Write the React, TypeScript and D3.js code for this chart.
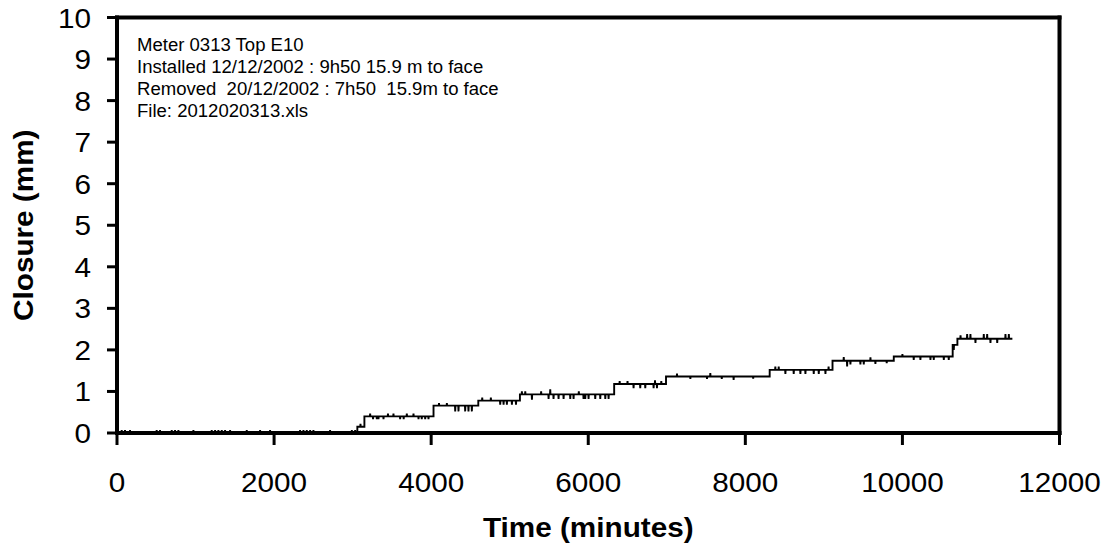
import React from "react";
import * as d3 from "d3";

// ---- data ----
const xTicks = [0, 2000, 4000, 6000, 8000, 10000, 12000];
const yTicks = [0, 1, 2, 3, 4, 5, 6, 7, 8, 9, 10];

// step levels of the closure record (minutes, mm)
const stepTimes = [0, 3060, 3150, 4030, 4600, 5130, 6330, 6990, 8310, 9110, 9890, 10640, 10700];
const stepLevels = [0, 0.15, 0.4, 0.66, 0.78, 0.93, 1.18, 1.36, 1.52, 1.74, 1.84, 2.12, 2.27];
const endTime = 11400;

// isolated single-reading excursions (minutes, mm)
const spikeTimes = [
  60, 102, 166, 505, 548, 697, 739, 782, 973, 1206, 1249, 1291, 1334, 1376, 1440, 1652, 1822, 1949,
  2331, 2374, 2416, 2459, 2501, 2713, 2990, 3032,
  3100,
  3223, 3260, 3308, 3329, 3393, 3450, 3520, 3605, 3650, 3690, 3775, 3839, 3880, 3924, 3966,
  4100, 4200, 4306, 4348, 4433, 4475, 4518,
  4650, 4760, 4879, 4922, 4964, 5028, 5080,
  5155, 5198, 5283, 5400, 5495, 5516, 5558, 5622, 5686, 5771, 5813, 5880, 5940, 5962, 6004, 6089, 6153, 6217, 6259,
  6400, 6500, 6577, 6662, 6726, 6832, 6850, 6875, 6930,
  7130, 7300, 7512, 7554, 7700, 7851, 8100,
  8382, 8425, 8510, 8616, 8701, 8765, 8871, 8935, 9020, 9060,
  9253, 9296, 9338, 9465, 9508, 9593, 9656, 9800,
  10000, 10144, 10229, 10357, 10399, 10527, 10590,
  10654,
  10740, 10824, 10866, 10930, 11036, 11079, 11121, 11207, 11312, 11355,
];
const spikeValues = [
  0.07, 0.07, 0.07, 0.07, 0.07, 0.07, 0.07, 0.07, 0.07, 0.07, 0.07, 0.07, 0.07, 0.07, 0.07, 0.07, 0.07, 0.07,
  0.07, 0.07, 0.07, 0.07, 0.07, 0.07, 0.07, 0.07,
  0.22,
  0.47, 0.33, 0.33, 0.33, 0.33, 0.47, 0.47, 0.33, 0.33, 0.47, 0.47, 0.33, 0.33, 0.33, 0.33,
  0.72, 0.72, 0.52, 0.52, 0.52, 0.52, 0.52,
  0.85, 0.85, 0.68, 0.68, 0.68, 0.68, 0.68,
  1.0, 1.0, 0.8, 1.0, 0.82, 1.05, 0.82, 0.82, 0.82, 0.82, 0.82, 1.0, 0.82, 0.82, 0.82, 0.82, 0.82, 0.82, 0.82,
  1.25, 1.25, 1.08, 1.08, 1.08, 1.08, 1.27, 1.08, 1.25,
  1.43, 1.3, 1.3, 1.44, 1.3, 1.28, 1.31,
  1.6, 1.6, 1.42, 1.42, 1.42, 1.42, 1.42, 1.42, 1.42, 1.6,
  1.83, 1.6, 1.65, 1.65, 1.65, 1.82, 1.66, 1.68,
  1.9, 1.76, 1.76, 1.76, 1.76, 1.76, 1.76,
  2.0,
  2.35, 2.38, 2.38, 2.17, 2.38, 2.38, 2.17, 2.17, 2.38, 2.38,
];

const noteLines = [
  "Meter 0313 Top E10",
  "Installed 12/12/2002 : 9h50 15.9 m to face",
  "Removed  20/12/2002 : 7h50  15.9m to face",
  "File: 2012020313.xls",
];

const FONT = "'Liberation Sans', Arial, Helvetica, sans-serif";

export default function App() {
  const W = 1109;
  const H = 555;
  const x = d3.scaleLinear().domain([0, 12000]).range([117, 1059.5]);
  const y = d3.scaleLinear().domain([0, 10]).range([433, 17.5]);

  // build the record from steps and spikes
  const pts: [number, number][] = [];
  stepTimes.forEach((t0, i) => {
    const t1 = i + 1 < stepTimes.length ? stepTimes[i + 1] : endTime;
    const L = stepLevels[i];
    pts.push([t0, L]);
    spikeTimes.forEach((t, k) => {
      if (t >= t0 && t < t1) {
        pts.push([t - 3, L]);
        pts.push([t, spikeValues[k]]);
        pts.push([t + 3, L]);
      }
    });
    pts.push([t1, L]);
  });
  const line = d3
    .line<[number, number]>()
    .x((d) => x(d[0]))
    .y((d) => y(d[1]));

  const sx = 1.1;

  return (
    <svg
      width={W}
      height={H}
      style={{ position: "absolute", left: 0, top: 0, background: "#fff" }}
      fontFamily={FONT}
    >
      <rect x={0} y={0} width={W} height={H} fill="#fff" />

      {/* data */}
      <path d={line(pts) || ""} fill="none" stroke="#000" strokeWidth={1.9} strokeLinejoin="miter" strokeMiterlimit={2} />

      {/* frame */}
      <line x1={x(0)} x2={x(12000)} y1={y(10)} y2={y(10)} stroke="#000" strokeWidth={4} strokeLinecap="square" />
      <line x1={x(12000)} x2={x(12000)} y1={y(10)} y2={y(0)} stroke="#000" strokeWidth={4} strokeLinecap="square" />
      <line x1={x(0)} x2={x(0)} y1={y(10)} y2={y(0)} stroke="#000" strokeWidth={4} strokeLinecap="square" />
      <line x1={x(0)} x2={x(12000)} y1={y(0)} y2={y(0)} stroke="#000" strokeWidth={4} strokeLinecap="square" />

      {/* y ticks */}
      {yTicks.map((v) => (
        <g key={"y" + v}>
          <line x1={x(0) - 10} x2={x(0)} y1={y(v)} y2={y(v)} stroke="#000" strokeWidth={3} />
          <g transform={`translate(91,${y(v) + 10}) scale(${sx},1)`}>
            <text textAnchor="end" fontSize={27} fill="#000">
              {v}
            </text>
          </g>
        </g>
      ))}

      {/* x ticks */}
      {xTicks.map((v) => (
        <g key={"x" + v}>
          <line x1={x(v)} x2={x(v)} y1={y(0)} y2={y(0) + 12} stroke="#000" strokeWidth={3} />
          <g transform={`translate(${x(v)},492) scale(${sx},1)`}>
            <text textAnchor="middle" fontSize={27} fill="#000">
              {v}
            </text>
          </g>
        </g>
      ))}

      {/* axis titles */}
      <g transform={`translate(${(x(0) + x(12000)) / 2},537) scale(${sx},1)`}>
        <text textAnchor="middle" fontSize={27} fontWeight="bold" fill="#000">
          Time (minutes)
        </text>
      </g>
      <g transform={`translate(33,${(y(0) + y(10)) / 2}) rotate(-90) scale(${sx},1)`}>
        <text textAnchor="middle" fontSize={27} fontWeight="bold" fill="#000">
          Closure (mm)
        </text>
      </g>

      {/* annotation */}
      {noteLines.map((s, i) => (
        <g key={"n" + i} transform={`translate(137,${51 + i * 21.9}) scale(1.06,1)`}>
          <text fontSize={17.5} fill="#000" style={{ whiteSpace: "pre" }}>
            {s}
          </text>
        </g>
      ))}
    </svg>
  );
}
